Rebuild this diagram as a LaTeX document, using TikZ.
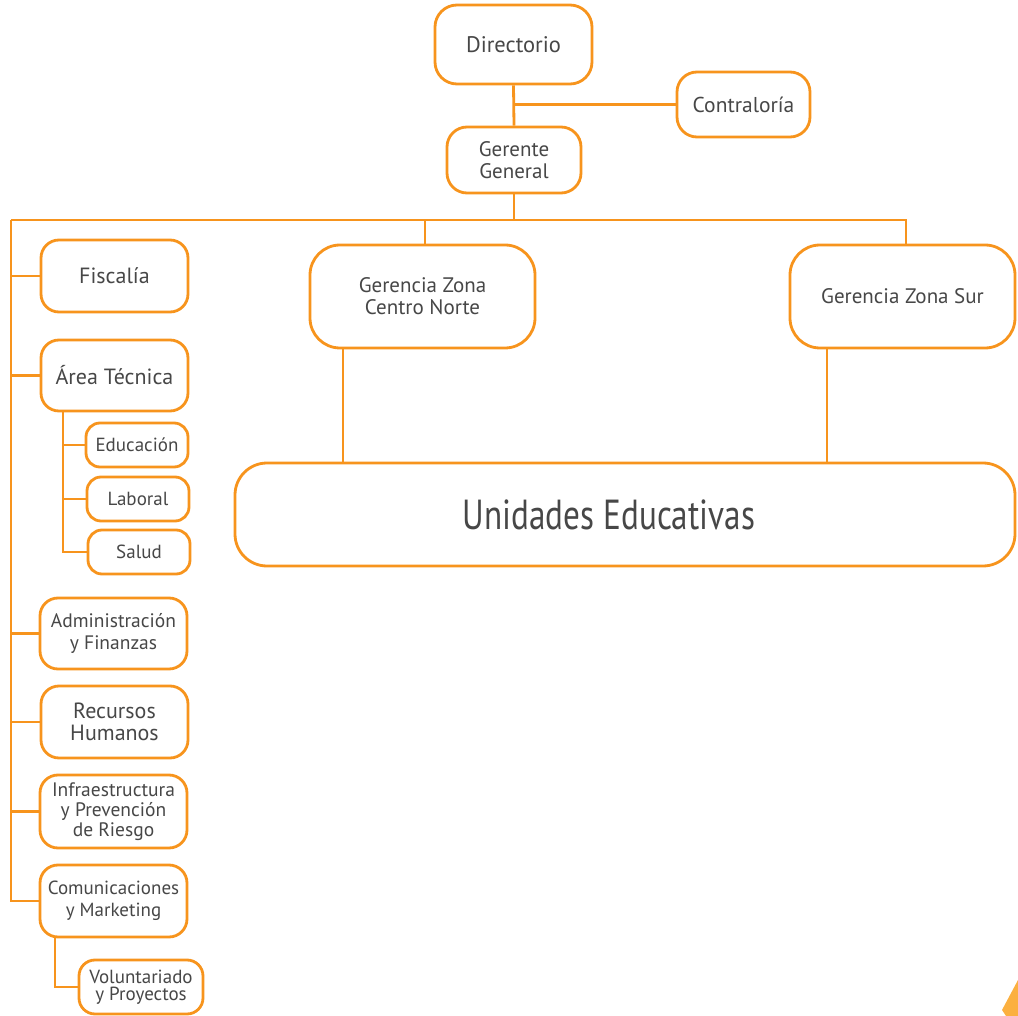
\documentclass[tikz,border=0pt]{standalone}
\usepackage{fontspec}
\setmainfont{PT Sans}
\definecolor{orgline}{HTML}{F7941D}
\definecolor{txtgray}{HTML}{474747}
\definecolor{cornertri}{HTML}{FBB040}
\tikzset{
  unit/.style={draw=orgline, line width=2.8pt, fill=white, text=txtgray, align=center, inner sep=0pt, rounded corners=#1},
  unit/.default=18pt,
  link/.style={draw=orgline, line width=2.8pt},
}
\newcommand{\fsz}[2]{\fontsize{#1}{#2}\selectfont}
\begin{document}
\begin{tikzpicture}[x=1pt,y=-1pt]
                \useasboundingbox (0,0) rectangle (1018,1016);

                % direccion
                \node[unit=22pt, minimum width=157, minimum height=79, font=\fsz{22.5}{24}] (dir) at (513.5,44.5) {Directorio};
                \node[unit=20pt, minimum width=133, minimum height=65, font=\fsz{21.5}{24}] (con) at (743.5,104.5) {Contraloría};
                \node[unit=20pt, minimum width=134, minimum height=66, font=\fsz{21}{22}] (gg) at (514,160) {Gerente\\General};

                % gerencias de zona
                \node[unit=30pt, minimum width=225, minimum height=103, font=\fsz{21}{22}] (cn) at (422.5,296.5) {Gerencia Zona\\Centro Norte};
                \node[unit=30pt, minimum width=225, minimum height=103, font=\fsz{21}{22}] (sur) at (902.5,296.5) {Gerencia Zona Sur};
                \node[unit=32pt, minimum width=780, minimum height=103, font=\fsz{42}{44}] (ue) at (625,514.5) {\scalebox{0.79}[1]{Unidades Educativas}\hspace*{32pt}};

                % areas de apoyo
                \node[unit, minimum width=147, minimum height=72, font=\fsz{22}{24}] (fis) at (114.5,276) {Fiscalía};
                \node[unit, minimum width=147, minimum height=71, font=\fsz{22}{24}] (area) at (114.5,375.5) {Área Técnica};
                \node[unit=14pt, minimum width=102, minimum height=44, font=\fsz{19}{21}] (edu) at (137,445) {Educación};
                \node[unit=14pt, minimum width=102, minimum height=44, font=\fsz{19}{21}] (lab) at (138,499) {Laboral};
                \node[unit=14pt, minimum width=102, minimum height=44, font=\fsz{19}{21}] (sal) at (139,552) {Salud};
                \node[unit, minimum width=147, minimum height=71, font=\fsz{19.5}{22}] (adm) at (113.5,633.5) {Administración\\y Finanzas};
                \node[unit, minimum width=147, minimum height=72, font=\fsz{22}{22}] (rh) at (114.5,722) {Recursos\\Humanos};
                \node[unit, minimum width=147, minimum height=73, font=\fsz{19.5}{20}] (inf) at (113.5,811.5) {Infraestructura\\y Prevención\\de Riesgo};
                \node[unit, minimum width=147, minimum height=72, font=\fsz{19}{22}] (com) at (113.5,901) {Comunicaciones\\y Marketing};
                \node[unit=16pt, minimum width=124, minimum height=54, font=\fsz{19}{17.5}] (vol) at (141,987) {Voluntariado\\y Proyectos};

                % lineas
                \coordinate (bl) at (11,220);
                \coordinate (br) at (906,220);
                \coordinate (at) at (63,411);
                \coordinate (ct) at (55,937);
                \draw[link] (dir.south) -- (gg.north);
                \draw[link] (dir.south |- con.west) -- (con.west);
                \draw[link] (gg.south) -- (gg.south |- bl);
                \draw[link] (bl) -- (br) -- (br |- sur.north);
                \draw[link] (425,220) -- (425,220 |- cn.north);
                \draw[link] (bl) -- (bl |- com.west) -- (com.west);
                \foreach \n in {fis,area,adm,rh,inf}
                    \draw[link] (bl |- \n.west) -- (\n.west);
                \draw[link] (at) -- (at |- sal.west) -- (sal.west);
                \foreach \n in {edu,lab}
                    \draw[link] (at |- \n.west) -- (\n.west);
                \draw[link] (ct) -- (ct |- vol.west) -- (vol.west);
                \draw[link] (cn.south -| 343,0) -- (ue.north -| 343,0);
                \draw[link] (sur.south -| 827,0) -- (ue.north -| 827,0);

                \fill[cornertri] (1002,1010) -- (1018,980) -- (1018,1016) -- (1006,1016) -- cycle;
            \end{tikzpicture}
\end{document}
